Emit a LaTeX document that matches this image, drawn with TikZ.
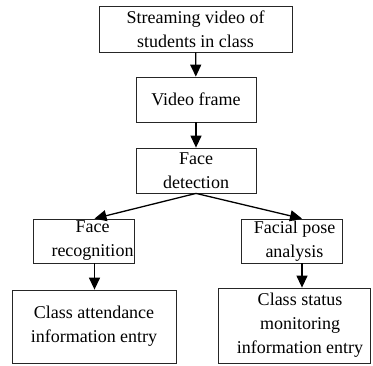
\documentclass[tikz,border=0pt]{standalone}
\usepackage{fontspec}
\setmainfont{Liberation Serif}
\usetikzlibrary{arrows.meta}
\tikzset{
  >={Triangle[length=12pt, width=11pt]},
  ftxt/.style={align=center, inner sep=0pt, font=\fontsize{18}{24}\selectfont},
  fbox/.style={ftxt, draw=black!85, line width=0.8pt},
  fseta/.style={->, line width=1.3pt},
}

\begin{document}
\begin{tikzpicture}[x=1pt, y=-1pt]
  \useasboundingbox (0,0) rectangle (373,365);

  % caixas
  \node[fbox, minimum width=193pt, minimum height=46pt] (stream) at (195.5,29)
    {Streaming video of\\students in class};
  \node[fbox, minimum width=120pt, minimum height=45pt] (frame) at (196,99.5)
    {Video frame};
  \node[fbox, minimum width=120pt, minimum height=45pt] (detect) at (196,170.5)
    {Face\\detection};
  \node[fbox, minimum width=101pt, minimum height=44pt,
        label={[ftxt, xshift=9pt]center:{Face\\recognition}}] (frec) at (83.5,241) {};
  \node[fbox, minimum width=101pt, minimum height=44pt,
        label={[ftxt, xshift=3pt]center:{Facial pose\\analysis}}] (pose) at (291.5,241) {};
  \node[fbox, minimum width=164pt, minimum height=73pt] (attend) at (94,326.5)
    {Class attendance\\information entry};
  \node[fbox, minimum width=152pt, minimum height=75pt,
        label={[ftxt, xshift=6pt]center:{Class status\\monitoring\\information entry}}] (status) at (294,325.5) {};

  % pontos de chegada
  \coordinate (frecin) at ([xshift=11pt]frec.north);
  \coordinate (posein) at ([xshift=10.5pt]pose.north);

  % setas
  \draw[fseta] (stream) -- (frame);
  \draw[fseta] (frame) -- (detect);
  \draw[fseta] (detect.south) -- (frecin);
  \draw[fseta] (detect.south) -- (posein);
  \draw[fseta] (frec.south -| frecin) -- (attend.north -| frecin);
  \draw[fseta] (pose.south -| posein) -- (status.north -| posein);

\end{tikzpicture}
\end{document}
